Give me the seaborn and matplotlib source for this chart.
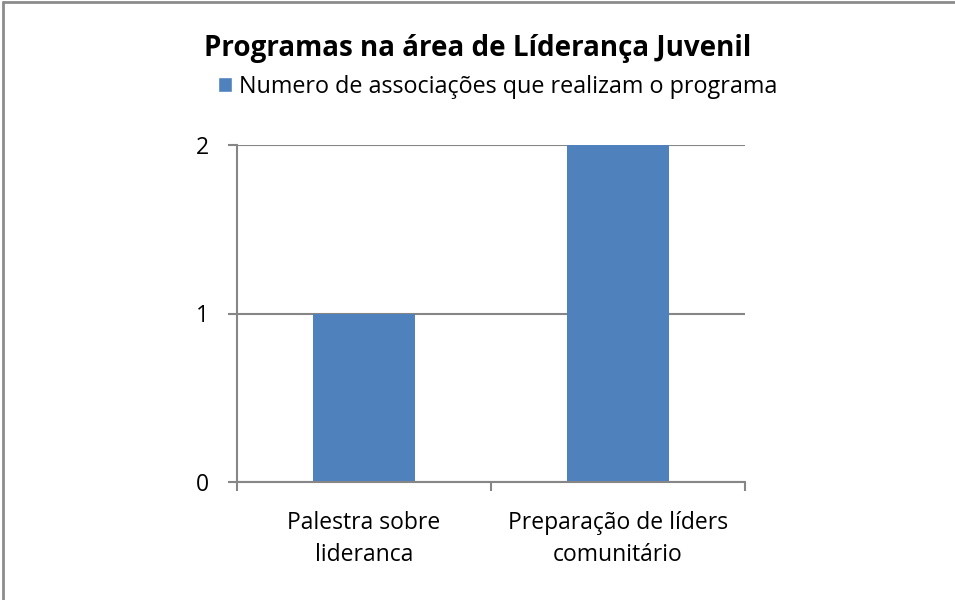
import seaborn as sns
import matplotlib.pyplot as plt
import pandas as pd
from matplotlib.patches import Patch
from matplotlib.lines import Line2D

# data
programas = ["Palestra sobre\nlideranca", "Preparação de líders\ncomunitário"]
associacoes = [1, 2]
serie = "Numero de associações que realizam o programa"
titulo = "Programas na área de Líderança Juvenil"

df = pd.DataFrame({"Programa": programas, "Associacoes": associacoes})

sns.set_style("white")
plt.rcParams["font.family"] = ["Open Sans", "DejaVu Sans"]
plt.rcParams["text.color"] = "black"
plt.rcParams["xtick.color"] = "black"
plt.rcParams["ytick.color"] = "black"

bar_color = "#4F81BD"
grid_color = "#868686"

fig = plt.figure(figsize=(9.55, 6.0), dpi=100)
ax = fig.add_axes([0.2482, 0.1967, 0.5319, 0.5616])

sns.barplot(data=df, x="Programa", y="Associacoes", color=bar_color,
            width=0.4, saturation=1, linewidth=0, ax=ax)

ax.set_xlim(-0.5, 1.5)
ax.set_ylim(0, 2)
ax.set_yticks([0, 1, 2])
ax.set_xlabel("")
ax.set_ylabel("")

# grid + spines
ax.yaxis.grid(True, color=grid_color, linewidth=1.5)
ax.set_axisbelow(True)
for s in ["top", "right"]:
    ax.spines[s].set_visible(False)
for s in ["left", "bottom"]:
    ax.spines[s].set_color(grid_color)
    ax.spines[s].set_linewidth(1.5)

ax.tick_params(axis="y", length=6.5, width=1.5, color=grid_color,
               labelsize=16.5, labelcolor="black", pad=14, left=True)
ax.tick_params(axis="x", which="major", length=0, labelsize=16.5,
               labelcolor="black", pad=21)
ax.set_xticks([-0.5, 0.5, 1.5], minor=True)
ax.tick_params(axis="x", which="minor", length=6.5, width=1.5,
               color=grid_color, bottom=True)
for lbl in ax.get_xticklabels():
    lbl.set_linespacing(1.42)

fig.text(0.5, 0.919, titulo, ha="center", va="center",
         fontsize=20, fontweight="bold", color="black")

fig.legend(handles=[Patch(facecolor=bar_color, label=serie)],
           loc="center", bbox_to_anchor=(0.521, 0.855), frameon=False,
           fontsize=16.8, handlelength=0.6, handleheight=0.6,
           handletextpad=0.3, borderaxespad=0, labelcolor="black")

# chart border (left and top edges visible)
fig.add_artist(Line2D([0.003, 0.003], [0, 0.997], color="#8c8c8c",
                      linewidth=2, transform=fig.transFigure))
fig.add_artist(Line2D([0.003, 1], [0.997, 0.997], color="#8c8c8c",
                      linewidth=2, transform=fig.transFigure))

fig.savefig("out.png", dpi=100)
plt.close(fig)
